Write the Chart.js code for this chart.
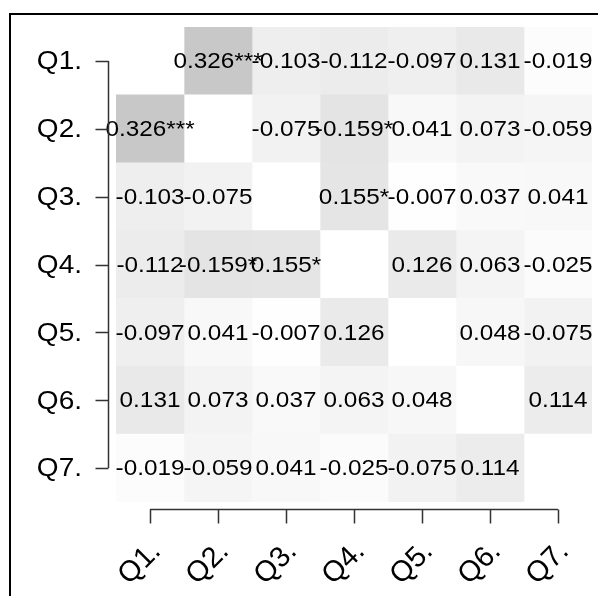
<!DOCTYPE html>
<html>
<head>
<meta charset="utf-8">
<style>
  html, body { margin: 0; padding: 0; background: #ffffff; }
  #wrap { width: 598px; height: 596px; position: relative; }
</style>
<script src="https://cdn.jsdelivr.net/npm/chart.js@4/dist/chart.umd.min.js"></script>
</head>
<body>
<div id="wrap"><canvas id="c" width="598" height="596"></canvas></div>
<script>
// ---- Data ----
const items = ['Q1.', 'Q2.', 'Q3.', 'Q4.', 'Q5.', 'Q6.', 'Q7.'];
const rowQ1 = [null, 0.326, -0.103, -0.112, -0.097, 0.131, -0.019];
const rowQ2 = [0.326, null, -0.075, -0.159, 0.041, 0.073, -0.059];
const rowQ3 = [-0.103, -0.075, null, 0.155, -0.007, 0.037, 0.041];
const rowQ4 = [-0.112, -0.159, 0.155, null, 0.126, 0.063, -0.025];
const rowQ5 = [-0.097, 0.041, -0.007, 0.126, null, 0.048, -0.075];
const rowQ6 = [0.131, 0.073, 0.037, 0.063, 0.048, null, 0.114];
const rowQ7 = [-0.019, -0.059, 0.041, -0.025, -0.075, 0.114, null];
const starsQ1 = ['', '***', '', '', '', '', ''];
const starsQ2 = ['***', '', '', '*', '', '', ''];
const starsQ3 = ['', '', '', '*', '', '', ''];
const starsQ4 = ['', '*', '*', '', '', '', ''];
const starsQ5 = ['', '', '', '', '', '', ''];
const starsQ6 = ['', '', '', '', '', '', ''];
const starsQ7 = ['', '', '', '', '', '', ''];

const rows = [rowQ1, rowQ2, rowQ3, rowQ4, rowQ5, rowQ6, rowQ7];
const stars = [starsQ1, starsQ2, starsQ3, starsQ4, starsQ5, starsQ6, starsQ7];

function cellColor(r) {
  if (r === null) return '#ffffff';
  const g = Math.round(255 - Math.abs(r) * 168);
  return 'rgb(' + g + ',' + g + ',' + g + ')';
}

// one dataset per column: floating bars [k, k+1] along x for every row
const datasets = items.map((_, k) => ({
  label: items[k],
  data: rows.map(() => [k, k + 1]),
  backgroundColor: rows.map(row => cellColor(row[k])),
  borderWidth: 0,
  grouped: false,
  barPercentage: 1,
  categoryPercentage: 1
}));

const CELL_FONT = '22.5px "Liberation Sans", Arial, sans-serif';
const YLABEL_FONT = '25px "Liberation Sans", Arial, sans-serif';
const XLABEL_FONT = '29px "Liberation Sans", Arial, sans-serif';

const deco = {
  id: 'deco',
  beforeDraw(chart) {
    const ctx = chart.ctx;
    ctx.save();
    ctx.fillStyle = '#ffffff';
    ctx.fillRect(0, 0, chart.width, chart.height);
    // outer frame (top and left visible)
    ctx.strokeStyle = '#000000';
    ctx.lineWidth = 2;
    ctx.beginPath();
    ctx.moveTo(10, chart.height);
    ctx.lineTo(10, 14);
    ctx.lineTo(chart.width, 14);
    ctx.stroke();
    ctx.restore();
  },
  afterDatasetsDraw(chart) {
    const ctx = chart.ctx;
    const xs = chart.scales.x, ys = chart.scales.y;
    const area = chart.chartArea;
    ctx.save();
    // cell texts
    ctx.fillStyle = '#000000';
    ctx.font = CELL_FONT;
    ctx.textAlign = 'center';
    ctx.textBaseline = 'middle';
    rows.forEach((row, j) => {
      row.forEach((v, k) => {
        if (v === null) return;
        const txt = v.toFixed(3) + stars[j][k];
        const cx = xs.getPixelForValue(k + 0.5);
        const cy = ys.getPixelForValue(j);
        ctx.save();
        ctx.translate(cx, cy + 1);
        ctx.scale(1.08, 1);
        ctx.fillText(txt, 0, 0);
        ctx.restore();
      });
    });

    // left axis
    ctx.strokeStyle = '#333333';
    ctx.lineWidth = 1.5;
    const axX = Math.round(area.left - 8) + 0.5;
    const yTop = ys.getPixelForValue(0), yBot = ys.getPixelForValue(items.length - 1);
    ctx.beginPath();
    ctx.moveTo(axX, yTop);
    ctx.lineTo(axX, yBot);
    items.forEach((_, j) => {
      const y = Math.round(ys.getPixelForValue(j)) + 0.5;
      ctx.moveTo(axX - 13, y);
      ctx.lineTo(axX, y);
    });
    ctx.stroke();

    // bottom axis
    const axY = Math.round(area.bottom + 7) + 0.5;
    const xL = xs.getPixelForValue(0.5), xR = xs.getPixelForValue(items.length - 0.5);
    ctx.beginPath();
    ctx.moveTo(xL, axY);
    ctx.lineTo(xR, axY);
    items.forEach((_, k) => {
      const x = Math.round(xs.getPixelForValue(k + 0.5)) + 0.5;
      ctx.moveTo(x, axY);
      ctx.lineTo(x, axY + 14);
    });
    ctx.stroke();

    // y labels
    ctx.font = YLABEL_FONT;
    ctx.textAlign = 'right';
    ctx.textBaseline = 'middle';
    items.forEach((lab, j) => {
      const y = ys.getPixelForValue(j);
      ctx.save();
      ctx.translate(82, y + 1.5);
      ctx.scale(1.12, 1);
      ctx.fillText(lab, 0, 0);
      ctx.restore();
    });

    // x labels, rotated 45 degrees
    ctx.font = XLABEL_FONT;
    ctx.textBaseline = 'alphabetic';
    items.forEach((lab, k) => {
      const x = xs.getPixelForValue(k + 0.5);
      ctx.save();
      ctx.translate(x + 12, axY + 43);
      ctx.rotate(-Math.PI / 4);
      ctx.fillText(lab, 0, 0);
      ctx.restore();
    });
    ctx.restore();
  }
};

new Chart(document.getElementById('c'), {
  type: 'bar',
  data: { labels: items, datasets: datasets },
  options: {
    indexAxis: 'y',
    responsive: false,
    animation: false,
    layout: { padding: { left: 116, right: 6, top: 27, bottom: 94 } },
    plugins: { legend: { display: false }, tooltip: { enabled: false } },
    scales: {
      x: { type: 'linear', min: 0, max: items.length, display: false },
      y: { type: 'category', display: false, offset: true }
    }
  },
  plugins: [deco]
});
</script>
</body>
</html>
